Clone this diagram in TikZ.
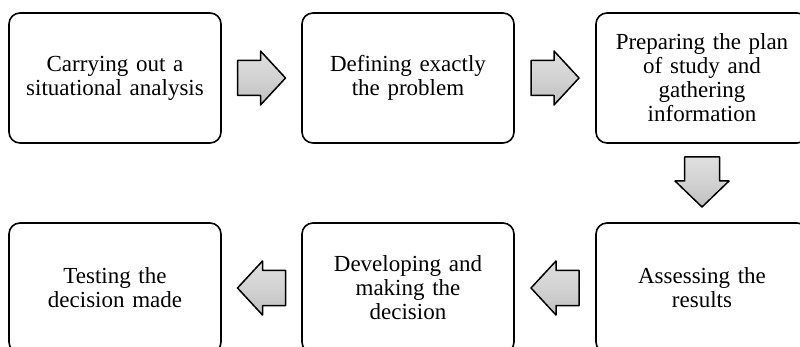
\documentclass[tikz,border=0pt]{standalone}
\usepackage{fontspec}
\setmainfont{Liberation Serif}
\usetikzlibrary{calc}
\begin{document}
\begin{tikzpicture}[x=1pt,y=-1pt,
  stepbox/.style={draw=black, line width=1.6pt, rounded corners=11pt,
    minimum width=212pt, minimum height=130pt, inner sep=0pt,
    text width=210pt, align=center,
    font=\fontsize{23}{24}\selectfont},
  blockarrow/.style={draw=black, line width=1.5pt, line join=round,
    top color=gray!25, bottom color=gray!50, middle color=gray!35}]
\clip (0,0) rectangle (800,347);
\useasboundingbox (0,0) rectangle (800,347);
\fill[white] (0,0) rectangle (800,347);
% boxes
\node[stepbox] (n1) at (115,78) {Carrying out a\\situational analysis};
\node[stepbox] (n2) at (408,78) {Defining exactly\\the problem};
\node[stepbox] (n3) at (702,78) {Preparing the plan\\of study and\\gathering\\information};
\node[stepbox] (n4) at (702,288) {Assessing the\\results};
\node[stepbox] (n5) at (408,288) {Developing and\\making the\\decision};
\node[stepbox] (n6) at (115,288) {Testing the\\decision made};
% arrows between boxes
\coordinate (a1) at ($(n1.east)!0.5!(n2.west)$);
\coordinate (a2) at ($(n2.east)!0.5!(n3.west)$);
\coordinate (a3) at ($(n3.south)!0.5!(n4.north)$);
\coordinate (a4) at ($(n4.west)!0.5!(n5.east)$);
\coordinate (a5) at ($(n5.west)!0.5!(n6.east)$);
% right arrows
\foreach \c in {a1,a2}{
  \path[blockarrow] ($(\c)+(-24,-17.5)$) -- ++(23,0) -- ++(0,-9.5) -- ++(25,27) -- ++(-25,27) -- ++(0,-9.5) -- ++(-23,0) -- cycle;
}
% down arrow
\path[blockarrow] ($(a3)+(-17.5,-26)$) -- ++(35,0) -- ++(0,24) -- ++(9.5,0) -- ++(-27,26) -- ++(-27,-26) -- ++(9.5,0) -- cycle;
% left arrows
\foreach \c in {a4,a5}{
  \path[blockarrow] ($(\c)+(24,-17.5)$) -- ++(-23,0) -- ++(0,-9.5) -- ++(-25,27) -- ++(25,27) -- ++(0,-9.5) -- ++(23,0) -- cycle;
}
\end{tikzpicture}
\end{document}
